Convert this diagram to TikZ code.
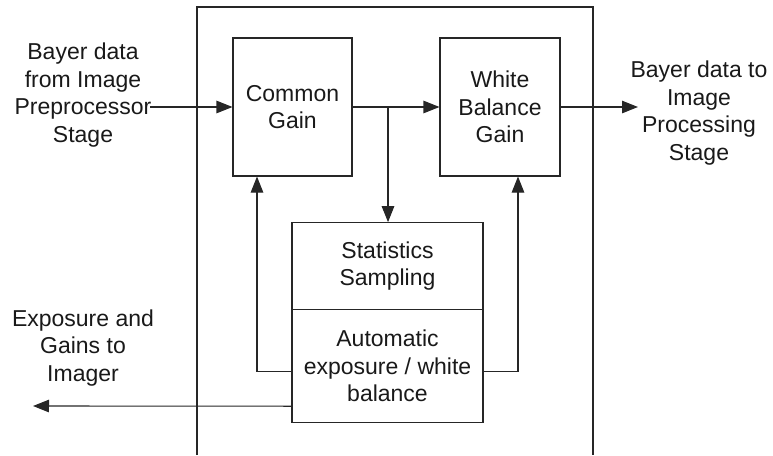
\documentclass[tikz,border=0pt]{standalone}
\usepackage{fontspec}
\setmainfont{Liberation Sans}
\usetikzlibrary{arrows.meta,calc}
\begin{document}
\begin{tikzpicture}[x=1pt,y=-1pt,
  line width=1.1pt,
  draw=black!85,
  every node/.style={font=\fontsize{23}{27.5}\selectfont, text=black!90, align=center},
  block/.style={draw=black!85, line width=1.1pt, rectangle, inner sep=0pt},
  label/.style={inner sep=0pt},
  flow/.style={-{Triangle[length=16pt,width=12.5pt]}}
]
\useasboundingbox (0,0) rectangle (773,455);

% outer frame, open at the bottom
\draw (197,455) -- (197,7) -- (593,7) -- (593,455);

% processing blocks
\node[block, minimum width=119pt, minimum height=138pt] (common) at (292.5,107) {Common\\Gain};
\node[block, minimum width=120pt, minimum height=138pt] (wb) at (500,107) {White\\Balance\\Gain};
\node[block, minimum width=191pt, minimum height=87pt] (stats) at (387.5,266.2) {Statistics\\Sampling};
\node[block, minimum width=191pt, minimum height=113pt] (aewb) at (387.5,366.2) {Automatic\\exposure / white\\balance};

% external labels
\node[label] (inlbl) at (83,95) {Bayer data\\from Image\\Preprocessor\\Stage};
\node[label] (outlbl) at (699,113) {Bayer data to\\Image\\Processing\\Stage};
\node[label] (explbl) at (83,348) {Exposure and\\Gains to\\Imager};

% connector end points
\coordinate (inStart) at (150,107);
\coordinate (outEnd) at (638,107);
\coordinate (branch) at (388,107);
\coordinate (expEnd) at (33,406);

% data path
\draw[flow] (inStart) -- (common.west);
\draw[flow] (common.east) -- (wb.west);
\draw[flow] (branch) -- (branch |- stats.north);
\draw[flow] (wb.east) -- (outEnd);

% feedback from the AE/AWB block
\draw[flow] ([yshift=-5pt]aewb.west) -| ([xshift=-35.5pt]common.south);
\draw[flow] ([yshift=-5pt]aewb.east) -| ([xshift=18pt]wb.south);
\draw[flow] ([yshift=-40pt]aewb.west) -- (expEnd);
\end{tikzpicture}
\end{document}
